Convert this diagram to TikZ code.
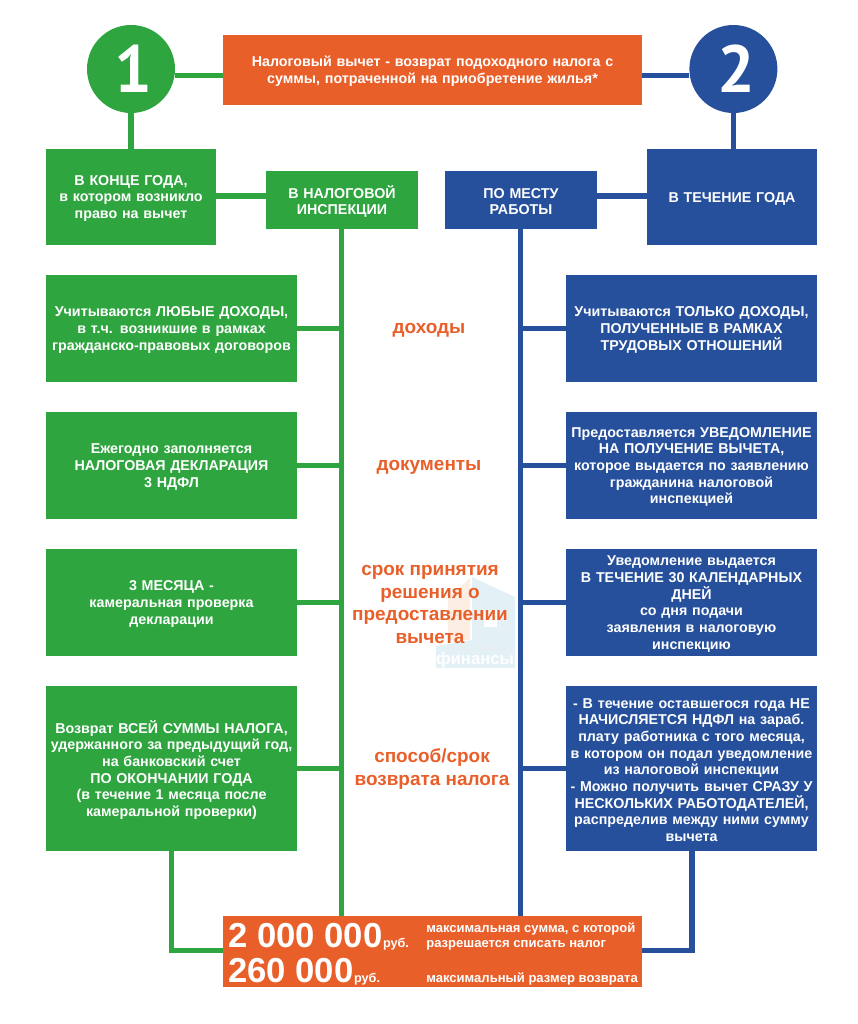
\documentclass[tikz,border=0pt]{standalone}
\usepackage{fontspec}
\setmainfont{Liberation Sans}
\newfontfamily\digitfont{PT Sans}
\definecolor{gr}{HTML}{2FA540}
\definecolor{bl}{HTML}{26509B}
\definecolor{or}{HTML}{E95F2A}
\definecolor{wm}{HTML}{E3F1F6}
\definecolor{wo}{HTML}{FCEEE2}
\newcommand{\bx}[7]{\node[boxfill,#6,minimum width={(#4-#2)*0.75pt},minimum height={(#5-#3)*0.75pt}] (#1) at ({(#2+#4)/2},{(#3+#5)/2}) {};
\node[boxbase,text width={(#4-#2-2)*0.75pt}] (#1t) at ([yshift=-1.1pt]#1.center) {#7};}
\tikzset{
 boxfill/.style={inner sep=0pt,outer sep=0pt},
 boxbase/.style={inner sep=0pt,outer sep=0pt,align=center,text=white,font=\bfseries\fontsize{10.7}{12.5}\selectfont},
 gbox/.style={fill=gr}, bbox/.style={fill=bl}, obox/.style={fill=or},
 gline/.style={draw=gr,line width=4.1pt},
 bline/.style={draw=bl,line width=4.1pt},
 lbl/.style={text=or,font=\bfseries\fontsize{14.2}{16.9}\selectfont,align=center,inner sep=0pt},
 big/.style={text=white,font=\bfseries\fontsize{26}{26}\selectfont,inner sep=0pt,anchor=base west},
 rub/.style={text=white,font=\bfseries\fontsize{9.5}{10}\selectfont,inner sep=0pt,anchor=base west},
 note/.style={text=white,font=\bfseries\fontsize{9.8}{10}\selectfont,inner sep=0pt,anchor=base west},
 num/.style={circle,minimum size=66pt,inner sep=0pt,outer sep=0pt,text=white,font=\digitfont\bfseries\fontsize{50}{50}\selectfont},
}
\begin{document}
\begin{tikzpicture}[x=0.75pt,y=-0.75pt]
\useasboundingbox (0,0) rectangle (857,1024);
% watermark
\fill[wo] (448,598) -- (470,578) -- (470,640) -- (448,640) -- cycle;
\fill[wm] (472,577) -- (515,597) -- (515,668) -- (436,668) -- (436,646) -- (472,640) -- cycle;
\fill[white] (484,610) rectangle (497,627);
\node[text=white,font=\bfseries\fontsize{12.5}{13}\selectfont,inner sep=0pt] (wm1) at (475,660) {финансы};
\node[text=white!85!gray,font=\rmfamily\fontsize{6}{6.5}\selectfont,inner sep=0pt] (wm2) at (482,649) {ваши личные};
% boxes
\node[num,fill=gr] (c1) at (131,69) {\hspace*{3.8pt}1};
\node[num,fill=bl] (c2) at (733.4,69) {\hspace*{3.8pt}2};
\bx{top}{223}{35}{642}{105}{obox}{Налоговый вычет - возврат подоходного налога с\\суммы, потраченной на приобретение жилья*}
\bx{g0}{46}{149}{216}{245}{gbox}{В КОНЦЕ ГОДА,\\в котором возникло\\право на вычет}
\bx{gh}{266}{171}{418}{229}{gbox}{В НАЛОГОВОЙ\\ИНСПЕКЦИИ}
\bx{bh}{445}{171}{597}{229}{bbox}{ПО МЕСТУ\\РАБОТЫ}
\bx{b0}{647}{149}{817}{245}{bbox}{В ТЕЧЕНИЕ ГОДА}
\bx{g1}{46}{275}{297}{382}{gbox}{Учитываются ЛЮБЫЕ ДОХОДЫ,\\в т.ч. возникшие в рамках\\гражданско-правовых договоров}
\bx{g2}{46}{412}{297}{519}{gbox}{Ежегодно заполняется\\НАЛОГОВАЯ ДЕКЛАРАЦИЯ\\3 НДФЛ}
\bx{g3}{46}{549}{297}{656}{gbox}{3 МЕСЯЦА -\\камеральная проверка\\декларации}
\bx{g4}{46}{686}{297}{851}{gbox}{Возврат ВСЕЙ СУММЫ НАЛОГА,\\удержанного за предыдущий год,\\на банковский счет\\ПО ОКОНЧАНИИ ГОДА\\(в течение 1 месяца после\\камеральной проверки)}
\bx{b1}{566}{275}{817}{382}{bbox}{Учитываются ТОЛЬКО ДОХОДЫ,\\ПОЛУЧЕННЫЕ В РАМКАХ\\ТРУДОВЫХ ОТНОШЕНИЙ}
\bx{b2}{566}{412}{817}{519}{bbox}{Предоставляется УВЕДОМЛЕНИЕ\\НА ПОЛУЧЕНИЕ ВЫЧЕТА,\\которое выдается по заявлению\\гражданина налоговой\\инспекцией}
\bx{b3}{566}{549}{817}{656}{bbox}{Уведомление выдается\\В ТЕЧЕНИЕ 30 КАЛЕНДАРНЫХ\\ДНЕЙ\\со дня подачи\\заявления в налоговую\\инспекцию}
\bx{b4}{566}{686}{817}{851}{bbox}{- В течение оставшегося года НЕ\\НАЧИСЛЯЕТСЯ НДФЛ на зараб.\\плату работника с того месяца,\\в котором он подал уведомление\\из налоговой инспекции\\- Можно получить вычет СРАЗУ У\\НЕСКОЛЬКИХ РАБОТОДАТЕЛЕЙ,\\распределив между ними сумму\\вычета}
\node[boxfill,obox,minimum width={419*0.75pt},minimum height={71*0.75pt}] (bot) at (432.5,951.5) {};
% connector anchor coordinates
\coordinate (tg) at (341.7,229); \coordinate (tge) at (341.7,916);
\coordinate (tb) at (520.7,229); \coordinate (tbe) at (520.7,916);
\coordinate (yc) at (0,75.5); \coordinate (yh) at (0,196);
% connectors
\draw[gline] (c1.east |- yc) -- (top.west |- yc);
\draw[bline] (c2.west |- yc) -- (top.east |- yc);
\draw[gline] (c1.south) -- (c1.south |- g0.north);
\draw[bline] (c2.south) -- (c2.south |- b0.north);
\draw[gline] (g0.east |- yh) -- (gh.west |- yh);
\draw[bline] (b0.west |- yh) -- (bh.east |- yh);
\draw[gline] (tg) -- (tge);
\draw[bline] (tb) -- (tbe);
\draw[gline] (g1.east) -- (g1.east -| tg);
\draw[gline] (g2.east) -- (g2.east -| tg);
\draw[gline] (g3.east) -- (g3.east -| tg);
\draw[gline] (g4.east) -- (g4.east -| tg);
\draw[bline] (b1.west) -- (b1.west -| tb);
\draw[bline] (b2.west) -- (b2.west -| tb);
\draw[bline] (b3.west) -- (b3.west -| tb);
\draw[bline] (b4.west) -- (b4.west -| tb);
\coordinate (gs) at (171.5,851); \coordinate (bs) at (692,851); \coordinate (ye) at (0,950.5);
\draw[gline,line join=miter] (gs) -- (gs |- ye) -- (bot.west |- ye);
\draw[bline,line join=miter] (bs) -- (bs |- ye) -- (bot.east |- ye);
% labels
\node[lbl,anchor=base] (l1) at (429,333) {доходы};
\node[lbl,anchor=base] (l2) at (429,470) {документы};
\node[lbl] (l3) at (430,604.5) {срок принятия\\решения о\\предоставлении\\вычета};
\node[lbl] (l4) at (432,769) {способ/срок\\возврата налога};
% bottom text
\node[big] (n1) at (228,947) {2 000 000};
\node[rub] (r1) at (n1.base east) {руб.};
\node[big] (n2) at (228,982) {260 000};
\node[rub] (r2) at (n2.base east) {руб.};
\node[note] (t1) at (426,932) {максимальная сумма, с которой};
\node[note] (t2) at (426,947) {разрешается списать налог};
\node[note] (t3) at (426,982) {максимальный размер возврата};
\end{tikzpicture}
\end{document}
